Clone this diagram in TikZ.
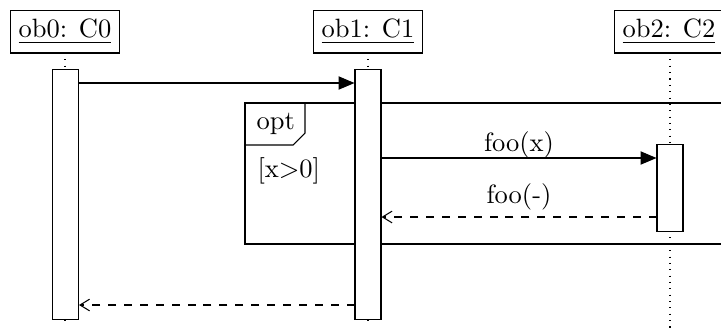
\documentclass[tikz,border=0pt]{standalone}
\usetikzlibrary{arrows.meta}
\begin{document}
\begin{tikzpicture}[x=0.3774pt,y=-0.3774pt,
  objbox/.style={draw, fill=white, minimum width=41.1pt, minimum height=16.2pt, inner sep=0pt},
  bar/.style={draw, fill=white, inner sep=0pt, minimum width=9.8pt},
  life/.style={dotted},
  call/.style={-{Triangle[length=6pt,width=5pt]}},
  ret/.style={dashed, -{Straight Barb[length=3.6pt,width=4.4pt]}},
  lbl/.style={anchor=base, inner sep=0pt}]
\useasboundingbox (0,0) rectangle (721,327);
\clip (0,0) rectangle (721,327);
% lifelines
\coordinate (l0top) at (65,53);
\coordinate (l0bot) at (65,326);
\coordinate (l1top) at (368,53);
\coordinate (l1bot) at (368,326);
\coordinate (l2top) at (670,53);
\coordinate (l2bot) at (670,330);
\draw[life] (l0top) -- (l0bot);
\draw[life] (l1top) -- (l1bot);
\draw[life] (l2top) -- (l2bot);
% objects
\node[objbox] (ob0) at (65,31.5) {\underline{ob0: C0}};
\node[objbox] (ob1) at (368,31.5) {\underline{ob1: C1}};
\node[objbox] (ob2) at (669,31.5) {\underline{ob2: C2}};
% opt frame
\coordinate (fr1) at (245,103);
\coordinate (fr2) at (740,244);
\draw (fr1) rectangle (fr2);
\draw (245,103) -- (305,103) -- (305,133) -- (293,145) -- (245,145);
\node[anchor=base west, inner sep=0pt] (optl) at (256,129) {opt};
\node[anchor=base west, inner sep=0pt] (guard) at (257,177) {[x$>$0]};
% activation bars
\node[bar, minimum height=94.4pt, anchor=north] (a0) at (65.5,69) {};
\node[bar, minimum height=94.4pt, anchor=north] (a1) at (368,69) {};
\node[bar, minimum height=32.8pt, anchor=north] (a2) at (670,144) {};
% messages
\draw[call] (a0.east |- 0,83) -- (a1.west |- 0,83);
\draw[call] (a1.east |- 0,158) -- (a2.west |- 0,158);
\node[lbl] (m1) at (519,151) {foo(x)};
\draw[ret] (a2.west |- 0,217) -- (a1.east |- 0,217);
\node[lbl] (m2) at (519,203) {foo(-)};
\draw[ret] (a1.west |- 0,305) -- (a0.east |- 0,305);
\end{tikzpicture}
\end{document}
